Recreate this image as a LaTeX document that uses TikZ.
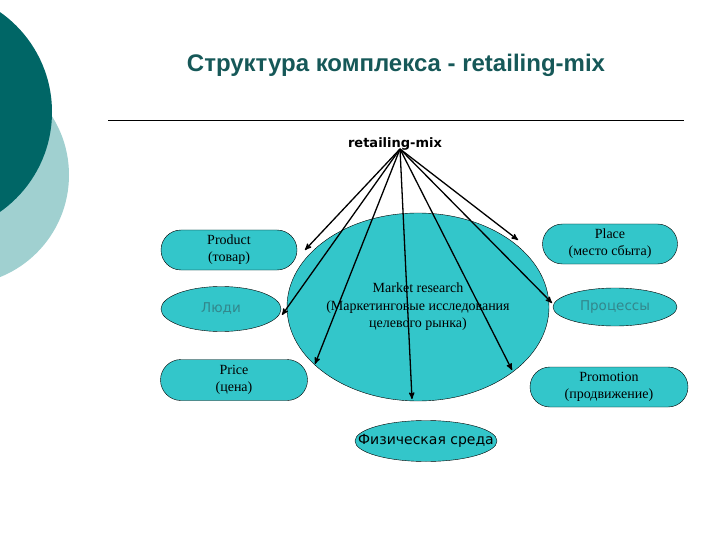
\documentclass[tikz,border=0pt]{standalone}
\usepackage{fontspec}
\setmainfont{Liberation Serif}
\newfontfamily\verdf{DejaVu Sans}
\newfontfamily\arialf{Liberation Sans}
\usetikzlibrary{arrows, positioning, shapes.geometric, shapes.misc}

\definecolor{darkteal}{RGB}{0,102,102}
\definecolor{paleteal}{RGB}{160,208,208}
\definecolor{cellfill}{RGB}{51,198,202}
\definecolor{headtext}{RGB}{22,88,88}
\definecolor{softtext}{RGB}{50,135,140}

\tikzset{
  pill/.style={rounded rectangle, draw, fill=cellfill, inner sep=0pt,
    minimum height=40pt, align=center, font=\fontsize{14}{17}\selectfont},
  oval/.style={ellipse, draw, fill=cellfill, inner sep=0pt, align=center},
  sanslabel/.style={font=\verdf\fontsize{13.5}{15}\selectfont},
  feed/.style={->, >=stealth', line width=1.3pt}
}

\begin{document}
\begin{tikzpicture}[x=1pt, y=-1pt]
  \useasboundingbox (0,0) rectangle (720,540);
  \clip (0,0) rectangle (720,540);

  % side circles
  \fill[paleteal] (-41,175) circle (110);
  \fill[darkteal] (-70,112) circle (122);

  \node[font=\arialf\bfseries\fontsize{24}{26}\selectfont, text=headtext] (title) at (396,65) {Структура комплекса - retailing-mix};
  \draw (108,120) -- (684,120);

  \node[font=\verdf\bfseries\fontsize{13}{15}\selectfont] (mix) at (395,144) {retailing-mix};
  \coordinate (hub) at (400,149);

  \node[oval, minimum width=262, minimum height=188, font=\fontsize{14}{17.5}\selectfont] (mr) at (418,307)
    {Market research\\(Маркетинговые исследования\\целевого рынка)};

  \node[pill, minimum width=136] (prod) at (229,250) {Product\\(товар)};
  \node[oval, sanslabel, text=softtext, minimum width=120, minimum height=45] (people) at (221,309) {Люди};
  \node[pill, minimum width=147, minimum height=41] (price) at (234,380) {Price\\(цена)};

  \node[pill, minimum width=135] (place) at (610,244) {Place\\(место сбыта)};
  \node[oval, sanslabel, text=softtext, minimum width=124, minimum height=38] (proc) at (615,307) {Процессы};
  \node[pill, minimum width=158] (promo) at (609,387) {Promotion\\(продвижение)};

  \node[oval, minimum width=142, minimum height=41,
    label={[font=\verdf\fontsize{14}{16}\selectfont]center:Физическая среда}] (env) at (426,441) {};

  % arrow ends
  \coordinate (to-prod)   at (305,250);
  \coordinate (to-people) at (282,315);
  \coordinate (to-price)  at (315,364);
  \coordinate (to-env)    at (412,399);
  \coordinate (to-promo)  at (512,370);
  \coordinate (to-proc)   at (552,303);
  \coordinate (to-place)  at (518,240);

  \foreach \t in {prod,people,price,env,promo,proc,place}
    \draw[feed] (hub) -- (to-\t);
\end{tikzpicture}
\end{document}
